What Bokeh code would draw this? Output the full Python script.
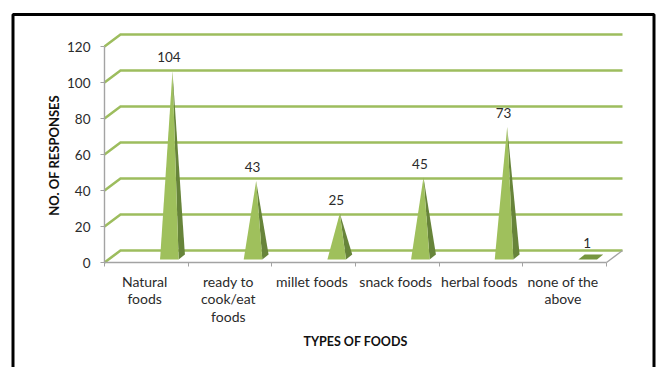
import math

from bokeh.embed import file_html
from bokeh.models import FixedTicker, Label, PolyAnnotation, Range1d
from bokeh.plotting import figure
from bokeh.resources import INLINE
from bokeh.core.properties import value

categories = ["Natural\nfoods", "ready to\ncook/eat\nfoods", "millet foods",
              "snack foods", "herbal foods", "none of the\nabove"]
responses = [104, 43, 25, 45, 73, 1]
y_ticks = [0, 20, 40, 60, 80, 100, 120]

FONT = "Lato"
GREEN = "#9dbd5e"
FACE = "#9fc05c"
SIDE = "#67843a"
FLAT = "#76963f"
AXIS_GREY = "#a3a3a3"
TEXT = "#2b2b2b"

# Page scale: the plot area fills the page, and the axes are pinned inside it.
WIDTH, HEIGHT = 656, 367
ORIGIN_X, ORIGIN_Y = 104, 262
PX_PER_CATEGORY = 83.67
PX_PER_UNIT = 1.8

# The chart fakes Excel's 3-D box: floor and walls are shifted by a depth offset.
DEPTH_X = 0.191
DEPTH_Y = 6.67
X_END = len(categories) + DEPTH_X

# Pyramid geometry, in category / value units.
CENTER_SHIFT = 0.275
HALF_FRONT = 0.111
BACK_SHIFT = 0.075
BASE_FRONT = 1.67
BASE_BACK = 4.4
APEX_LIFT = 2.3

p = figure(width=WIDTH, height=HEIGHT, output_backend="svg", toolbar_location=None,
           x_range=Range1d(-ORIGIN_X / PX_PER_CATEGORY, (WIDTH - ORIGIN_X) / PX_PER_CATEGORY),
           y_range=Range1d((ORIGIN_Y - HEIGHT) / PX_PER_UNIT, ORIGIN_Y / PX_PER_UNIT),
           min_border=0, outline_line_color=None,
           background_fill_color="white", border_fill_color="white")
p.grid.visible = False

# Gridlines: a slanted stub on the left wall, then the run along the back wall.
for tick in y_ticks:
    p.line([0, DEPTH_X, X_END], [tick, tick + DEPTH_Y, tick + DEPTH_Y],
           line_color=GREEN, line_width=2.6, line_join="miter")

# Right-hand edge of the floor.
p.line([len(categories), X_END], [0, DEPTH_Y], line_color=AXIS_GREY, line_width=1.4)

for i, v in enumerate(responses):
    c = i + 0.5 + CENTER_SHIFT
    fl, fr = c - HALF_FRONT, c + HALF_FRONT
    bl, br = fl + BACK_SHIFT, fr + BACK_SHIFT
    base_mid = c + BACK_SHIFT / 2
    apex = v + APEX_LIFT
    if v > 5:
        p.patch([fr, br, base_mid], [BASE_FRONT, BASE_BACK, apex], color=SIDE, line_width=0)
        p.patch([fl, fr, base_mid], [BASE_FRONT, BASE_FRONT, apex], color=FACE, line_width=0)
    else:
        p.patch([fl, fr, br, bl], [BASE_FRONT, BASE_FRONT, BASE_BACK, BASE_BACK], color=FLAT, line_width=0)

# Value labels sit above each apex.
p.text([i + 0.5 + 0.27 for i in range(len(responses))], responses,
       text=[str(v) for v in responses], y_offset=-18,
       text_font=value(FONT), text_font_size="13.5px", text_color=TEXT,
       text_align="center", text_baseline="middle")

yaxis = p.yaxis[0]
yaxis.fixed_location = 0
yaxis.ticker = FixedTicker(ticks=y_ticks)
yaxis.bounds = (0, 120)
yaxis.major_label_text_font = FONT
yaxis.major_label_text_font_size = "13.5px"
yaxis.major_label_text_color = TEXT
yaxis.axis_line_color = AXIS_GREY
yaxis.axis_line_width = 1.4
yaxis.major_tick_line_color = AXIS_GREY
yaxis.major_tick_in = 0
yaxis.major_tick_out = 4
yaxis.minor_tick_line_color = None
yaxis.major_label_standoff = 10

# Labels centre on each category; the tick marks fall on the category boundaries.
centers = [i + 0.48 for i in range(len(categories))]
xaxis = p.xaxis[0]
xaxis.fixed_location = 0
xaxis.ticker = FixedTicker(ticks=centers, minor_ticks=list(range(len(categories) + 1)))
xaxis.major_label_overrides = dict(zip(centers, categories))
xaxis.bounds = (0, len(categories))
xaxis.major_label_text_font = FONT
xaxis.major_label_text_font_size = "14px"
xaxis.major_label_text_line_height = 1.05
xaxis.major_label_text_color = TEXT
xaxis.major_label_standoff = 4
xaxis.axis_line_color = AXIS_GREY
xaxis.axis_line_width = 1.4
xaxis.major_tick_line_color = None
xaxis.minor_tick_line_color = AXIS_GREY
xaxis.minor_tick_in = 0
xaxis.minor_tick_out = 4

# Axis titles, off-centre relative to the plot area.
p.add_layout(Label(x=3.0, y=-44, text="TYPES OF FOODS", text_font=FONT,
                   text_font_size="12.5px", text_font_style="bold", text_color="#111111",
                   text_align="center", text_baseline="middle"))
p.add_layout(Label(x=-0.6, y=59.5, text="NO. OF RESPONSES", text_font=FONT,
                   text_font_size="13px", text_font_style="bold", text_color="#111111",
                   text_align="center", text_baseline="middle", angle=math.pi / 2))

# Heavy black frame, open along the bottom edge of the page.
p.add_layout(PolyAnnotation(xs=[12.5, 12.5, 653.5, 653.5, 653.5, 12.5], ys=[370, 14, 14, 370, 14, 14],
                            xs_units="canvas", ys_units="canvas",
                            fill_color=None, line_color="black", line_alpha=1.0, line_width=3))

open("out.html", "w").write(file_html(p, INLINE))
